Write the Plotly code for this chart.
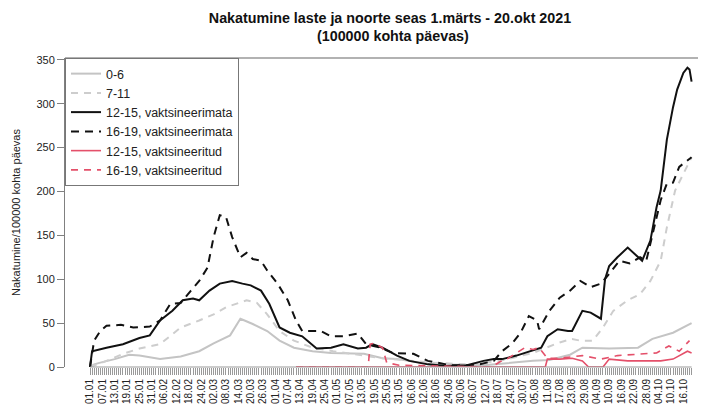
import datetime as dt
import plotly.graph_objects as go

# ---------------- data (day number counted from 01.01.2021) ----------------
START = dt.datetime(2021, 1, 1)

days_0_6 = [0, 2, 5, 12, 19, 24, 34, 44, 53, 60, 68, 73, 75, 79, 86, 92, 99, 108, 117, 133,
            142, 149, 166, 191, 215, 223, 233, 239, 252, 266, 273, 283, 292]
vals_0_6 = [0, 3, 5, 9, 14, 13, 9, 12, 18, 27, 36, 55, 53, 49, 41, 30, 22, 18, 16, 15,
            10, 9, 3, 2, 7, 8, 14, 22, 21, 22, 32, 39, 50]

days_7_11 = [0, 8, 16, 24, 34, 44, 53, 60, 66, 71, 76, 81, 86, 92, 99, 108, 118, 142, 166, 183,
             199, 215, 222, 228, 234, 238, 244, 249, 254, 261, 267, 272, 277, 280, 284, 288, 292]
vals_7_11 = [0, 7, 15, 21, 26, 45, 53, 60, 68, 72, 76, 73, 60, 41, 30, 22, 18, 10, 5, 3,
             7, 16, 22, 28, 32, 30, 30, 45, 64, 76, 83, 98, 121, 159, 201, 221, 239]

days_12_15_u = [0, 1, 8, 16, 24, 29, 34, 40, 45, 50, 53, 58, 63, 69, 74, 78, 83, 87, 92, 97,
                103, 110, 117, 123, 130, 134, 137, 142, 149, 155, 164, 173, 183, 191, 196, 200,
                207, 214, 219, 222, 227, 232, 234, 239, 243, 248, 250, 252, 256, 261, 266, 268,
                272, 275, 277, 280, 283, 285, 288, 290, 291, 292]
vals_12_15_u = [0, 18, 22, 26, 33, 36, 53, 64, 76, 78, 76, 87, 95, 98, 95, 93, 87, 72, 45, 39,
                35, 21, 22, 26, 21, 22, 26, 22, 13, 7, 3, 1, 2, 7, 9, 9,
                13, 18, 22, 35, 43, 41, 41, 64, 62, 55, 100, 115, 125, 136, 125, 121,
                144, 182, 201, 259, 296, 316, 335, 341, 339, 325]

days_16_19_u = [0, 2, 5, 8, 15, 21, 29, 34, 39, 44, 49, 53, 57, 60, 63, 66, 69, 73, 76, 79,
                83, 86, 91, 96, 100, 103, 108, 112, 117, 123, 130, 134, 141, 147, 157, 164, 175,
                183, 189, 196, 200, 205, 209, 213, 217, 218, 223, 228, 233, 238, 243, 248, 252,
                257, 262, 267, 270, 273, 277, 280, 283, 286, 290, 292]
vals_16_19_u = [0, 30, 41, 47, 48, 45, 46, 53, 72, 73, 87, 98, 113, 148, 173, 171, 148, 125, 130, 123,
                121, 110, 95, 76, 53, 41, 41, 41, 35, 35, 38, 26, 22, 16, 15, 7, 2,
                2, 3, 7, 18, 27, 39, 58, 53, 43, 64, 79, 87, 98, 91, 95, 106,
                121, 118, 125, 121, 152, 190, 209, 210, 228, 236, 239]

days_12_15_v = [100, 221, 222, 228, 234, 239, 242, 249, 252, 261, 268, 277, 283, 290, 292]
vals_12_15_v = [0, 0, 9, 9, 10, 7, 0, 0, 9, 7, 7, 7, 9, 18, 16]

days_16_19_v = [100, 135, 136, 138, 142, 144, 150, 195, 199, 203, 207, 211, 215, 218, 222, 228,
                239, 248, 256, 266, 275, 281, 286, 291]
vals_16_19_v = [0, 0, 26, 27, 22, 5, 2, 0, 6, 10, 16, 22, 20, 22, 10, 10,
                13, 9, 13, 15, 16, 24, 18, 30]

series_names = ["0-6", "7-11", "12-15, vaktsineerimata", "16-19, vaktsineerimata",
                "12-15, vaktsineeritud", "16-19, vaktsineeritud"]

tick_labels = ["01.01", "07.01", "13.01", "19.01", "25.01", "31.01", "06.02", "12.02", "18.02",
               "24.02", "02.03", "08.03", "14.03", "20.03", "26.03", "01.04", "07.04", "13.04",
               "19.04", "25.04", "01.05", "07.05", "13.05", "19.05", "25.05", "31.05", "06.06",
               "12.06", "18.06", "24.06", "30.06", "06.07", "12.07", "18.07", "24.07", "30.07",
               "05.08", "11.08", "17.08", "23.08", "29.08", "04.09", "10.09", "16.09", "22.09",
               "28.09", "04.10", "10.10", "16.10"]
LAST_DAY = 292  # 20.10

title_line1 = "Nakatumine laste ja noorte seas 1.märts - 20.okt 2021"
title_line2 = "(100000 kohta päevas)"
y_title = "Nakatumine/100000 kohta päevas"

# ---------------- helpers ----------------
def to_dates(days):
    return [START + dt.timedelta(days=d) for d in days]

def lbl_to_date(s):
    d, m = s.split(".")
    return dt.datetime(2021, int(m), int(d))

GRAY = "#c4c4c4"
RED = "#e4506a"
FONT = "Liberation Sans, Arial, sans-serif"

# figure is placed 8px in from the page's top-left corner by the default body margin
W, H = 698, 404

styles = [
    dict(color=GRAY, width=2, dash="solid"),
    dict(color="#cdcdcd", width=2, dash="7px,6px"),
    dict(color="#111111", width=2, dash="solid"),
    dict(color="#111111", width=2, dash="8px,6px"),
    dict(color=RED, width=1.6, dash="solid"),
    dict(color=RED, width=1.6, dash="7px,6px"),
]
data = [(days_0_6, vals_0_6), (days_7_11, vals_7_11), (days_12_15_u, vals_12_15_u),
        (days_16_19_u, vals_16_19_u), (days_12_15_v, vals_12_15_v), (days_16_19_v, vals_16_19_v)]

fig = go.Figure()
for (d, v), name, st in zip(data, series_names, styles):
    fig.add_trace(go.Scatter(x=to_dates(d), y=v, mode="lines", name=name, line=st))

tickvals = [lbl_to_date(s) for s in tick_labels]
minor_vals = to_dates(range(0, LAST_DAY + 1))

x_left = START - dt.timedelta(days=12.14)
x_right = START + dt.timedelta(days=299)

TITLE_SIZE = 14.3

fig.update_layout(
    width=W, height=H,
    margin=dict(l=57, r=0, t=50, b=45),
    paper_bgcolor="white", plot_bgcolor="white",
    font=dict(family=FONT, size=11, color="#222"),
    title=dict(text="<b>" + title_line1 + "</b>",
               x=382 / W, xanchor="center", xref="container",
               y=1 - 10 / H, yanchor="middle", yref="container",
               font=dict(family=FONT, size=TITLE_SIZE, color="#111")),
    showlegend=True,
    legend=dict(x=0, y=1, xanchor="left", yanchor="top", bgcolor="white",
                bordercolor="#777", borderwidth=1, font=dict(size=12.5, color="#222"),
                tracegroupgap=0, itemwidth=30),
)
fig.add_annotation(text="<b>" + title_line2 + "</b>", xref="paper", yref="paper",
                   x=(385 - 57) / (W - 57), y=1 + (50 - 28) / (H - 95),
                   xanchor="center", yanchor="middle", showarrow=False,
                   font=dict(family=FONT, size=TITLE_SIZE, color="#111"))

fig.update_xaxes(
    type="date", range=[x_left, x_right], showgrid=False, zeroline=False, showline=False,
    tickmode="array", tickvals=tickvals, ticktext=tick_labels, tickangle=-90,
    ticks="outside", ticklen=7, tickcolor="#999", tickwidth=1,
    tickfont=dict(size=10, color="#222"),
    minor=dict(tickmode="array", tickvals=minor_vals, ticks="outside", ticklen=7,
               tickcolor="#999", tickwidth=1, showgrid=False),
    automargin=False,
)
fig.update_yaxes(
    range=[0, 352], showgrid=False, zeroline=False, showline=True, linecolor="#808080",
    linewidth=1, tickvals=list(range(0, 351, 50)), ticks="outside", ticklen=7,
    tickcolor="#808080", tickfont=dict(size=11, color="#222"),
    title=dict(text=y_title, font=dict(size=11, color="#222"), standoff=13),
    automargin=False,
)

# frame top line and bottom axis line (axis decoration)
fig.add_shape(type="line", xref="paper", yref="paper", x0=0, x1=1, y0=1, y1=1,
              line=dict(color="#999", width=1.5), layer="above")
fig.add_shape(type="line", xref="x", yref="paper", x0=START,
              x1=START + dt.timedelta(days=LAST_DAY), y0=0, y1=0,
              line=dict(color="#999", width=1), layer="above")

fig.write_html("out.html")
